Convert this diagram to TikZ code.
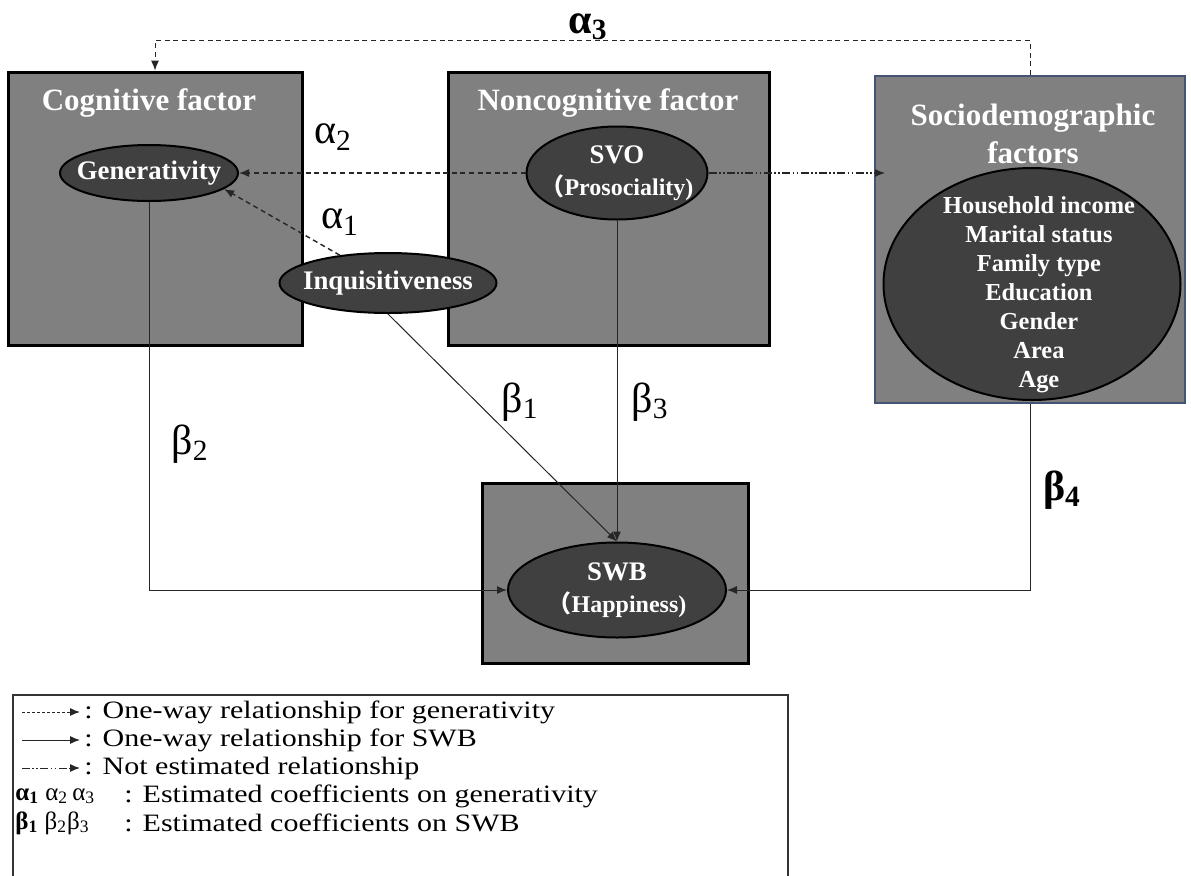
\documentclass[tikz,border=0pt]{standalone}
\usepackage{fontspec}
\setmainfont{Liberation Serif}
\newfontfamily\legendfont[FakeStretch=1.2]{Liberation Serif}
\newfontfamily\cjk{Noto Sans CJK SC}
\usetikzlibrary{arrows.meta,shapes.geometric}
\definecolor{boxgray}{RGB}{128,128,128}
\definecolor{ellgray}{RGB}{64,64,64}
\definecolor{socblue}{RGB}{68,84,118}
\newcommand{\fwpar}{{\cjk （}}

\begin{document}
\begin{tikzpicture}[x=0.5pt,y=-0.5pt,
    factorbox/.style={draw=black,line width=1.5pt,fill=boxgray,inner sep=0pt},
    factortitle/.style={text=white,align=center,font=\fontsize{15.5}{19}\selectfont\bfseries},
    latent/.style={ellipse,draw=black,line width=1pt,fill=ellgray,text=white,inner sep=-10pt,align=center,font=\fontsize{13.4}{16}\selectfont\bfseries},
    coef/.style={font=\fontsize{21}{24}\selectfont},
    boldcoef/.style={font=\fontsize{21}{24}\selectfont\bfseries},
    tip/.style={-{Latex[length=5pt,width=4pt]}},
    genpath/.style={tip,dash pattern=on 2.5pt off 1.8pt,line width=0.7pt,black!85},
    swbpath/.style={tip,line width=0.5pt,black!85},
    nepath/.style={tip,dash pattern=on 4pt off 1.2pt on 0.8pt off 1.2pt on 0.8pt off 1.2pt,line width=0.6pt,black!85},
    legendtext/.style={anchor=west,inner sep=0pt,font=\legendfont\fontsize{12.5}{14}\selectfont}]
  \fill[white] (0,0) rectangle (1191,875);
  \useasboundingbox (0,0) rectangle (1191,875);

  \node[factorbox,minimum width=147pt,minimum height=136.5pt] (cog) at (155,208.5) {};
  \node[factorbox,minimum width=160.5pt,minimum height=136.5pt] (ncog) at (608.5,208.5) {};
  \node[factorbox,draw=socblue,line width=1.3pt,minimum width=155pt,minimum height=163.5pt] (soc) at (1030,239.5) {};
  \node[factorbox,minimum width=133pt,minimum height=90pt] (swbbox) at (615,573) {};

  \node[factortitle] (cogtitle) at (149,103) {Cognitive factor};
  \node[factortitle] (ncogtitle) at (608,103) {Noncognitive factor};
  \node[factortitle] (soctitle) at (1033,134) {Sociodemographic\\factors};

  \node[latent,minimum width=89pt,minimum height=28pt] (gen) at (149,173) {Generativity};
  \node[latent,minimum width=108.5pt,minimum height=30pt] (inq) at (388,283) {Inquisitiveness};
  \node[latent,minimum width=90.5pt,minimum height=46.5pt] (svo) at (617,173) {SVO\\{\fontsize{12}{14}\selectfont\fwpar Prosociality)}};
  \node[latent,minimum width=109pt,minimum height=47.5pt] (swb) at (617,590) {SWB\\{\fontsize{12}{14}\selectfont\fwpar Happiness)}};
  \node[latent,minimum width=148.5pt,minimum height=116pt] (socell) at (1032,284) {};
  \node[text=white,align=center,font=\fontsize{12.2}{14.5}\selectfont\bfseries] (socitems) at (1039,295)
    {Household income\\Marital status\\Family type\\Education\\Gender\\Area\\Age};

  \node[coef] (a2) at (333,137) {α\textsubscript{2}};
  \node[coef] (a1) at (340,222) {α\textsubscript{1}};
  \node[boldcoef] (a3) at (588,27) {α\textsubscript{3}};
  \node[coef] (b2) at (190,444) {β\textsubscript{2}};
  \node[coef] (b1) at (520,402) {β\textsubscript{1}};
  \node[coef] (b3) at (650,402) {β\textsubscript{3}};
  \node[boldcoef] (b4) at (1062,490) {β\textsubscript{4}};

  \coordinate (nehead) at (885,173);
  \draw[genpath] (svo.west) -- (gen.east);
  \draw[genpath] (inq.150) -- (gen.-12);
  \draw[genpath,line width=0.5pt] (soc.north) -- ++(0,-34) -| (cog.north);
  \draw[nepath] (svo.east) -- (nehead);
  \draw[swbpath] (gen.south) |- (swb.west);
  \draw[swbpath] (inq.south) -- (swb.north);
  \draw[swbpath] (svo.south) -- (swb.north);
  \draw[swbpath] (soc.south) |- (swb.east);

  \draw[line width=0.6pt,black!80] (13,695) rectangle (788,880);
  \coordinate (l1s) at (22,712);
  \coordinate (l1e) at (80,712);
  \coordinate (l2s) at (22,740);
  \coordinate (l2e) at (80,740);
  \coordinate (l3s) at (22,768);
  \coordinate (l3e) at (80,768);
  \draw[genpath,dash pattern=on 1.5pt off 1pt,line width=0.5pt] (l1s) -- (l1e);
  \node[legendtext] (l1) at (84,712) {: One-way relationship for generativity};
  \draw[swbpath] (l2s) -- (l2e);
  \node[legendtext] (l2) at (84,740) {: One-way relationship for SWB};
  \draw[nepath,line width=0.5pt] (l3s) -- (l3e);
  \node[legendtext] (l3) at (84,768) {: Not estimated relationship};
  \node[legendtext,font=\fontsize{12.5}{14}\selectfont] (l4sym) at (15,796) {\textbf{α\textsubscript{1}} α\textsubscript{2}\,α\textsubscript{3}};
  \node[legendtext] (l4) at (124,796) {: Estimated coefficients on generativity};
  \node[legendtext,font=\fontsize{12.5}{14}\selectfont] (l5sym) at (15,823) {\textbf{β\textsubscript{1}} β\textsubscript{2}β\textsubscript{3}};
  \node[legendtext] (l5) at (124,823) {: Estimated coefficients on SWB};
\end{tikzpicture}
\end{document}
